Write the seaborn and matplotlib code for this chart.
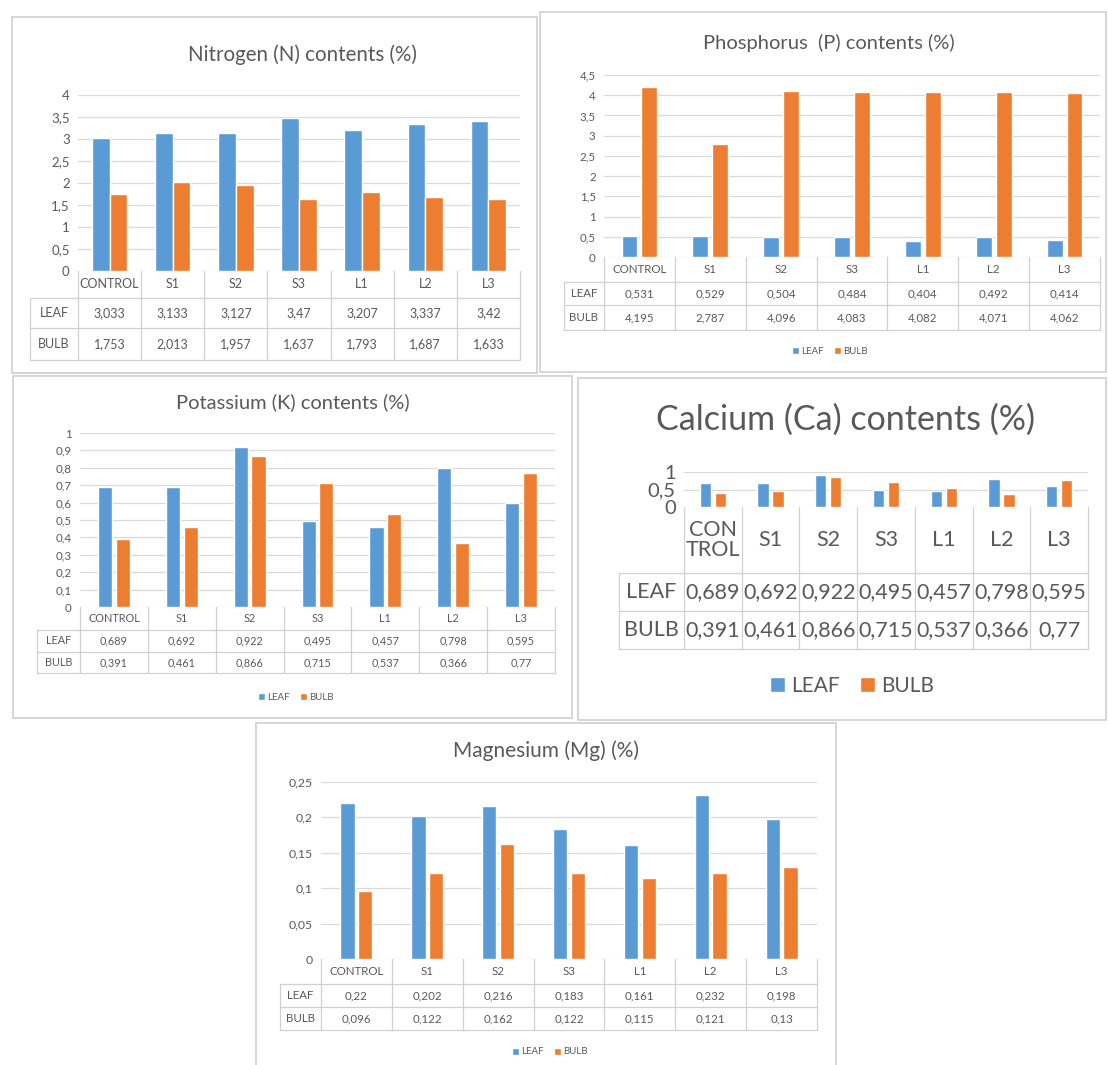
import matplotlib
matplotlib.use("Agg")
import matplotlib.pyplot as plt
from matplotlib.patches import Rectangle
import pandas as pd
import seaborn as sns

# ---------------------------------------------------------------- data
treatments = ["CONTROL", "S1", "S2", "S3", "L1", "L2", "L3"]
parts = ["LEAF", "BULB"]

nitrogen_leaf = [3.033, 3.133, 3.127, 3.47, 3.207, 3.337, 3.42]
nitrogen_bulb = [1.753, 2.013, 1.957, 1.637, 1.793, 1.687, 1.633]

phosphorus_leaf = [0.531, 0.529, 0.504, 0.484, 0.404, 0.492, 0.414]
phosphorus_bulb = [4.195, 2.787, 4.096, 4.083, 4.082, 4.071, 4.062]

potassium_leaf = [0.689, 0.692, 0.922, 0.495, 0.457, 0.798, 0.595]
potassium_bulb = [0.391, 0.461, 0.866, 0.715, 0.537, 0.366, 0.77]

calcium_leaf = [0.689, 0.692, 0.922, 0.495, 0.457, 0.798, 0.595]
calcium_bulb = [0.391, 0.461, 0.866, 0.715, 0.537, 0.366, 0.77]

magnesium_leaf = [0.22, 0.202, 0.216, 0.183, 0.161, 0.232, 0.198]
magnesium_bulb = [0.096, 0.122, 0.162, 0.122, 0.115, 0.121, 0.13]

nitrogen_ticks = [0, 0.5, 1, 1.5, 2, 2.5, 3, 3.5, 4]
phosphorus_ticks = [0, 0.5, 1, 1.5, 2, 2.5, 3, 3.5, 4, 4.5]
potassium_ticks = [0, 0.1, 0.2, 0.3, 0.4, 0.5, 0.6, 0.7, 0.8, 0.9, 1]
calcium_ticks = [0, 0.5, 1]
magnesium_ticks = [0, 0.05, 0.1, 0.15, 0.2, 0.25]

# ---------------------------------------------------------------- style
sns.set_theme(style="white")
plt.rcParams["font.family"] = ["Lato", "DejaVu Sans"]

BLUE = "#5B9BD5"
ORANGE = "#ED7D31"
TEXT = "#595959"
GRID = "#D9D9D9"
RULE = "#D0D0D0"

W, H = 1108, 1065
fig = plt.figure(figsize=(W / 100, H / 100), dpi=100)
fig.patch.set_facecolor("white")

base = fig.add_axes([0, 0, 1, 1], zorder=0)
base.set_xlim(0, W)
base.set_ylim(H, 0)
base.axis("off")


def comma(v):
    return f"{v:g}".replace(".", ",")


def frac(x0, y0, x1, y1):
    return [x0 / W, 1 - y1 / H, (x1 - x0) / W, (y1 - y0) / H]


def panel(title, leaf, bulb, ticks, border, plot, rows, label_left,
          title_xy, title_fs, tick_fs, table_fs, width, gap,
          legend_xy=None, legend_fs=6, header=None):
    bx0, by0, bx1, by1 = border
    base.add_patch(Rectangle((bx0, by0), bx1 - bx0, by1 - by0,
                             facecolor="white", edgecolor=RULE, lw=1.2))
    base.text(title_xy[0], title_xy[1], title, ha="center", va="center",
              fontsize=title_fs, color=TEXT)

    px0, py0, px1, py1 = plot
    ax = fig.add_axes(frac(*plot), zorder=2)
    ax.patch.set_alpha(0)

    df = pd.DataFrame({
        "treatment": treatments * 2,
        "part": [parts[0]] * len(leaf) + [parts[1]] * len(bulb),
        "value": list(leaf) + list(bulb),
    })
    sns.barplot(data=df, x="treatment", y="value", hue="part",
                hue_order=parts, order=treatments,
                palette=[BLUE, ORANGE], saturation=1, width=width, gap=gap,
                errorbar=None, ax=ax)
    handles, labels = ax.get_legend_handles_labels()
    if ax.get_legend() is not None:
        ax.get_legend().remove()

    ax.set_xlim(-0.5, len(treatments) - 0.5)
    ax.set_ylim(0, ticks[-1])
    ax.set_yticks(ticks)
    ax.set_yticklabels([comma(t) for t in ticks])
    ax.tick_params(axis="y", length=0, labelsize=tick_fs, colors=TEXT, pad=6)
    ax.tick_params(axis="x", length=0, labelbottom=False)
    ax.set_xlabel("")
    ax.set_ylabel("")
    for s in ax.spines.values():
        s.set_visible(False)
    ax.grid(axis="y", color=GRID, lw=0.9)
    ax.set_axisbelow(True)

    # data table under the category axis (x in data units, y in axes units)
    tr = ax.get_xaxis_transform()
    ph = py1 - py0
    col_w = (px1 - px0) / len(treatments)

    def fy(pix):
        return -(pix - py1) / ph

    r0, r1, r2, r3 = rows
    lab_x = -0.5 - (px0 - label_left) / col_w
    kw = dict(transform=tr, color=RULE, lw=0.9, clip_on=False)
    for i in range(len(treatments) + 1):
        ax.plot([i - 0.5, i - 0.5], [fy(r0), fy(r3)], **kw)
    ax.plot([lab_x, lab_x], [fy(r1), fy(r3)], **kw)
    for r in (r1, r2, r3):
        ax.plot([lab_x, len(treatments) - 0.5], [fy(r), fy(r)], **kw)

    names = header if header is not None else treatments
    tkw = dict(transform=tr, ha="center", va="center", color=TEXT,
               fontsize=table_fs, clip_on=False)
    for i, name in enumerate(names):
        ax.text(i, fy((r0 + r1) / 2), name, linespacing=1.0, **tkw)
        ax.text(i, fy((r1 + r2) / 2), comma(leaf[i]), **tkw)
        ax.text(i, fy((r2 + r3) / 2), comma(bulb[i]), **tkw)
    mid = (lab_x - 0.5) / 2
    ax.text(mid, fy((r1 + r2) / 2), parts[0], **tkw)
    ax.text(mid, fy((r2 + r3) / 2), parts[1], **tkw)

    if legend_xy is not None:
        fig.legend(handles, labels, loc="center",
                   bbox_to_anchor=(legend_xy[0] / W, 1 - legend_xy[1] / H),
                   ncol=2, frameon=False, fontsize=legend_fs,
                   handlelength=0.7, handleheight=0.7, handletextpad=0.3,
                   columnspacing=1.0, labelcolor=TEXT, borderaxespad=0)
    return ax


panel("Nitrogen (N) contents (%)", nitrogen_leaf, nitrogen_bulb,
      nitrogen_ticks, border=(12, 17, 537, 373), plot=(78, 95, 520, 271),
      rows=(271, 298, 328, 360), label_left=30, title_xy=(302, 55),
      title_fs=14.8, tick_fs=9.5, table_fs=9, width=0.56, gap=0)

panel("Phosphorus  (P) contents (%)", phosphorus_leaf, phosphorus_bulb,
      phosphorus_ticks, border=(540, 12, 1106, 372), plot=(604, 75, 1100, 257),
      rows=(257, 282, 305, 330), label_left=564, title_xy=(829, 43),
      title_fs=14.5, tick_fs=8.3, table_fs=8.3, width=0.56, gap=0.2,
      legend_xy=(830, 351), legend_fs=7)

panel("Potassium (K) contents (%)", potassium_leaf, potassium_bulb,
      potassium_ticks, border=(13, 376, 572, 718), plot=(80, 433, 555, 607),
      rows=(607, 630, 652, 673), label_left=37, title_xy=(293, 402),
      title_fs=14.5, tick_fs=8.3, table_fs=7.8, width=0.52, gap=0.2,
      legend_xy=(296, 697), legend_fs=7)

panel("Calcium (Ca) contents (%)", calcium_leaf, calcium_bulb,
      calcium_ticks, border=(578, 378, 1106, 720), plot=(684, 472, 1088, 507),
      rows=(507, 573, 611, 649), label_left=619, title_xy=(845, 420),
      title_fs=24.5, tick_fs=14.5, table_fs=15.5, width=0.52, gap=0.25,
      legend_xy=(852, 686), legend_fs=15,
      header=["CON\nTROL"] + treatments[1:])

panel("Magnesium (Mg) (%)", magnesium_leaf, magnesium_bulb,
      magnesium_ticks, border=(256, 723, 836, 1068), plot=(321, 782, 817, 959),
      rows=(959, 984, 1007, 1030), label_left=280, title_xy=(546, 751),
      title_fs=15, tick_fs=8.8, table_fs=8.3, width=0.5, gap=0.2,
      legend_xy=(550, 1052), legend_fs=7)

fig.savefig("out.png", dpi=100, facecolor="white")
